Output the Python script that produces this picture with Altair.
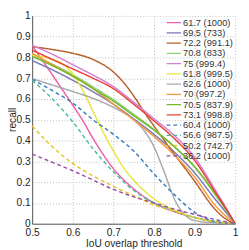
import altair as alt
import pandas as pd

labels = ["61.7 (1000)", "69.5 (733)", "72.2 (991.1)", "70.8 (833)", "75 (999.4)",
          "61.8 (999.5)", "62.6 (1000)", "70 (997.2)", "70.5 (837.9)", "73.1 (998.8)",
          "60.4 (1000)", "56.6 (987.5)", "50.2 (742.7)", "36.2 (1000)"]
colors = ["#ef5fa7", "#7b78b8", "#b8602a", "#8fd37a", "#d27fd6",
          "#e6e63a", "#a9a9a9", "#f4973e", "#74b82c", "#e8423a",
          "#3b7dbf", "#4db8a0", "#e8c41c", "#9a4fa6"]
dashed = [False] * 10 + [True] * 4

x_std = [0.5, 0.55, 0.6, 0.65, 0.7, 0.75, 0.8, 0.85, 0.9, 0.95, 0.975, 1.0]

x_pink = [0.5, 0.55, 0.6, 0.625, 0.65, 0.7, 0.75, 0.8, 0.85, 0.9, 0.95, 0.975, 1.0]
y_pink = [0.858, 0.715, 0.57, 0.495, 0.41, 0.265, 0.168, 0.1, 0.058, 0.03, 0.01, 0.004, 0.0]
y_purple = [0.785, 0.74, 0.69, 0.635, 0.575, 0.505, 0.43, 0.345, 0.245, 0.12, 0.06, 0.0]
y_lgreen = [0.814, 0.767, 0.717, 0.658, 0.597, 0.527, 0.454, 0.372, 0.272, 0.142, 0.072, 0.0]
x_brown = [0.5, 0.55, 0.6, 0.65, 0.7, 0.725, 0.75, 0.775, 0.8, 0.85, 0.9, 0.95, 0.975, 1.0]
y_brown = [0.852, 0.838, 0.82, 0.79, 0.73, 0.68, 0.615, 0.54, 0.47, 0.335, 0.205, 0.07, 0.025, 0.0]
y_orchid = [0.858, 0.815, 0.765, 0.715, 0.66, 0.585, 0.505, 0.425, 0.32, 0.165, 0.085, 0.0]
x_yellow = [0.5, 0.55, 0.575, 0.6, 0.625, 0.65, 0.675, 0.7, 0.725, 0.75, 0.8, 0.85, 0.9, 0.95, 1.0]
y_yellow = [0.812, 0.79, 0.77, 0.72, 0.64, 0.54, 0.44, 0.35, 0.27, 0.21, 0.12, 0.065, 0.03, 0.01, 0.0]
x_grey = [0.5, 0.55, 0.6, 0.65, 0.7, 0.75, 0.775, 0.8, 0.825, 0.85, 0.875, 0.9, 0.95, 1.0]
y_grey = [0.698, 0.667, 0.636, 0.603, 0.56, 0.5, 0.45, 0.37, 0.25, 0.12, 0.045, 0.015, 0.004, 0.0]
y_orange = [0.82, 0.765, 0.71, 0.65, 0.575, 0.5, 0.42, 0.33, 0.225, 0.09, 0.04, 0.0]
y_green = [0.805, 0.76, 0.71, 0.65, 0.59, 0.52, 0.45, 0.37, 0.275, 0.145, 0.075, 0.0]
y_red = [0.835, 0.79, 0.745, 0.7, 0.65, 0.575, 0.495, 0.41, 0.305, 0.155, 0.08, 0.0]
y_blue = [0.695, 0.64, 0.58, 0.5, 0.43, 0.35, 0.24, 0.14, 0.055, 0.01, 0.003, 0.0]
y_teal = [0.69, 0.6, 0.49, 0.36, 0.25, 0.16, 0.1, 0.06, 0.03, 0.01, 0.004, 0.0]
y_gold = [0.47, 0.37, 0.29, 0.23, 0.18, 0.135, 0.09, 0.06, 0.03, 0.01, 0.004, 0.0]
y_vdash = [0.335, 0.295, 0.255, 0.21, 0.165, 0.13, 0.1, 0.07, 0.045, 0.02, 0.01, 0.0]

x_ticks = [0.5, 0.6, 0.7, 0.8, 0.9, 1.0]
y_ticks = [0, 0.1, 0.2, 0.3, 0.4, 0.5, 0.6, 0.7, 0.8, 0.9, 1.0]
x_title = "IoU overlap threshold"
y_title = "recall"

series = [
    (x_pink, y_pink), (x_std, y_purple), (x_brown, y_brown), (x_std, y_lgreen),
    (x_std, y_orchid), (x_yellow, y_yellow), (x_grey, y_grey), (x_std, y_orange),
    (x_std, y_green), (x_std, y_red), (x_std, y_blue), (x_std, y_teal),
    (x_std, y_gold), (x_std, y_vdash),
]

rows = []
for i, (xs, ys) in enumerate(series):
    for xv, yv in zip(xs, ys):
        rows.append({"label": labels[i], "order": i, "iou": xv, "recall": yv})
df = pd.DataFrame(rows)

dashes = [[4, 3] if d else [1, 0] for d in dashed]

font = "Liberation Sans"
W, H = 210, 215
legend = alt.Legend(title=None, orient="none", legendX=141.5, legendY=2,
                    symbolType="M-1.875,0H1.875", symbolSize=64, symbolStrokeWidth=1.5,
                    symbolFillColor="transparent",
                    labelFontSize=9.6, labelFont=font, labelColor="#333333",
                    labelOffset=4.5, rowPadding=0.6, padding=0, symbolOpacity=1)

lines = alt.Chart(df).mark_line(strokeWidth=1.5, interpolate="monotone").encode(
    x=alt.X("iou:Q", scale=alt.Scale(domain=[0.5, 1], nice=False),
            axis=alt.Axis(values=x_ticks, format="~g", title=x_title, labelFlush=False)),
    y=alt.Y("recall:Q", scale=alt.Scale(domain=[0, 1], nice=False),
            axis=alt.Axis(values=y_ticks, format="~g", title=None, labelFlush=False)),
    color=alt.Color("label:N", scale=alt.Scale(domain=labels, range=colors), legend=legend),
    strokeDash=alt.StrokeDash("label:N", scale=alt.Scale(domain=labels, range=dashes), legend=legend),
    order=alt.Order("order:Q"),
    detail="label:N",
)

ytitle = alt.Chart(pd.DataFrame({"t": [y_title]})).mark_text(
    angle=270, align="center", baseline="top", font=font, fontSize=10.5, color="#262626"
).encode(text="t:N", x=alt.value(-25), y=alt.value(H / 2))

chart = alt.layer(lines, ytitle).properties(
    width=W, height=H,
    autosize=alt.AutoSizeParams(type="none"),
    padding={"left": 25, "top": 4, "right": 6, "bottom": 22},
).configure_view(stroke=None).configure_axis(
    labelFont=font, titleFont=font, labelFontSize=10.5, titleFontSize=10.5,
    titleFontWeight="normal", labelColor="#262626", titleColor="#262626",
    domainColor="#555555", grid=True, gridColor="#bbbbbb", gridDash=[1, 2],
    gridWidth=1, ticks=False, labelPadding=2,
).configure_axisX(titlePadding=1, labelPadding=4)

chart.save("out.html", embed_options={"renderer": "svg", "actions": False})
